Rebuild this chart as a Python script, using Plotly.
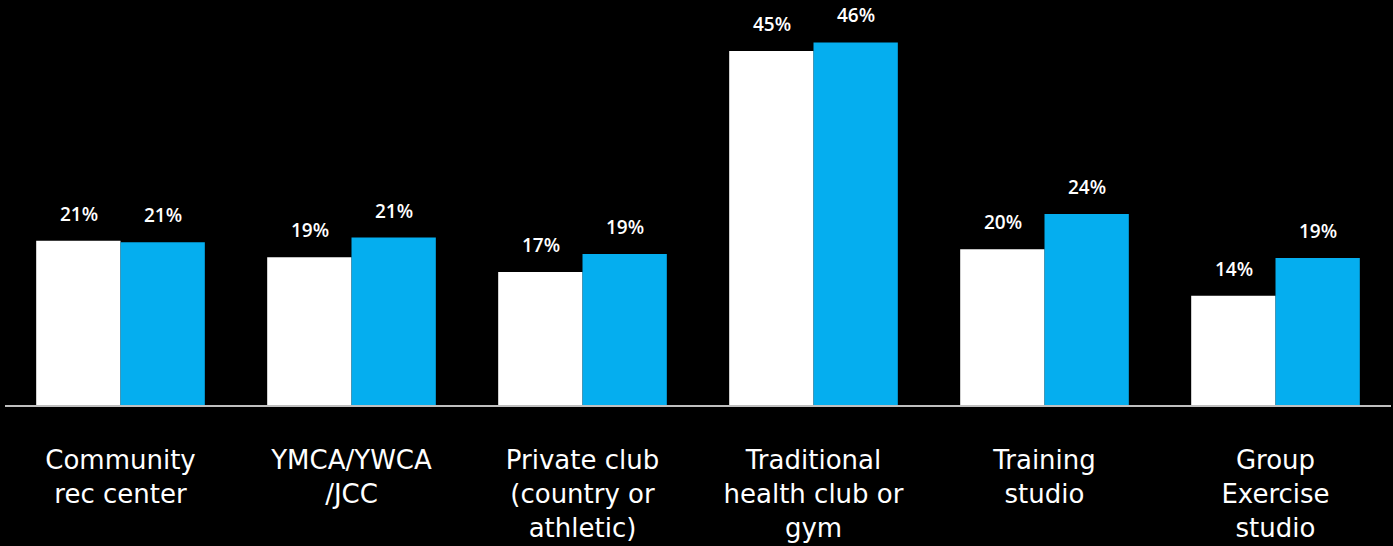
import plotly.graph_objects as go

categories = ["Community<br>rec center", "YMCA/YWCA<br>/JCC", "Private club<br>(country or<br>athletic)",
              "Traditional<br>health club or<br>gym", "Training<br>studio", "Group<br>Exercise<br>studio"]
series_a = [20.9, 18.8, 16.9, 45.0, 19.8, 13.9]
series_b = [20.7, 21.3, 19.2, 46.1, 24.3, 18.7]
labels_a = ["21%", "19%", "17%", "45%", "20%", "14%"]
labels_b = ["21%", "21%", "19%", "46%", "24%", "19%"]

FONT = "Open Sans"
TICKFONT = "DejaVu Sans"
x_idx = list(range(len(categories)))

fig = go.Figure()
fig.add_trace(go.Bar(x=x_idx, y=series_a, marker=dict(color="#FFFFFF", line=dict(width=0)), hoverinfo="skip"))
fig.add_trace(go.Bar(x=x_idx, y=series_b, marker=dict(color="#05AEEF", line=dict(width=0)), hoverinfo="skip"))

for i in x_idx:
    for val, lab, xs in ((series_a[i], labels_a[i], -42), (series_b[i], labels_b[i], 42)):
        fig.add_annotation(x=i, y=val, text=lab, xref="x", yref="y", showarrow=False,
                           xshift=xs, yshift=12, yanchor="bottom",
                           font=dict(family=FONT, size=19, color="#FFFFFF", weight=600))

fig.update_layout(
    width=1393, height=546,
    paper_bgcolor="#000000", plot_bgcolor="#000000",
    margin=dict(l=5, r=2, t=0, b=141),
    barmode="group", bargap=0.27, bargroupgap=0,
    showlegend=False,
    xaxis=dict(tickmode="array", tickvals=x_idx, ticktext=categories, range=[-0.5, 5.5],
               showline=True, linecolor="#BFBFBF", linewidth=2, showgrid=False, zeroline=False,
               ticks="", tickfont=dict(family=TICKFONT, size=26, color="#FFFFFF"), ticklabelstandoff=31),
    yaxis=dict(range=[0, 51.5], visible=False, showgrid=False, zeroline=False),
)

fig.write_html("out.html")
